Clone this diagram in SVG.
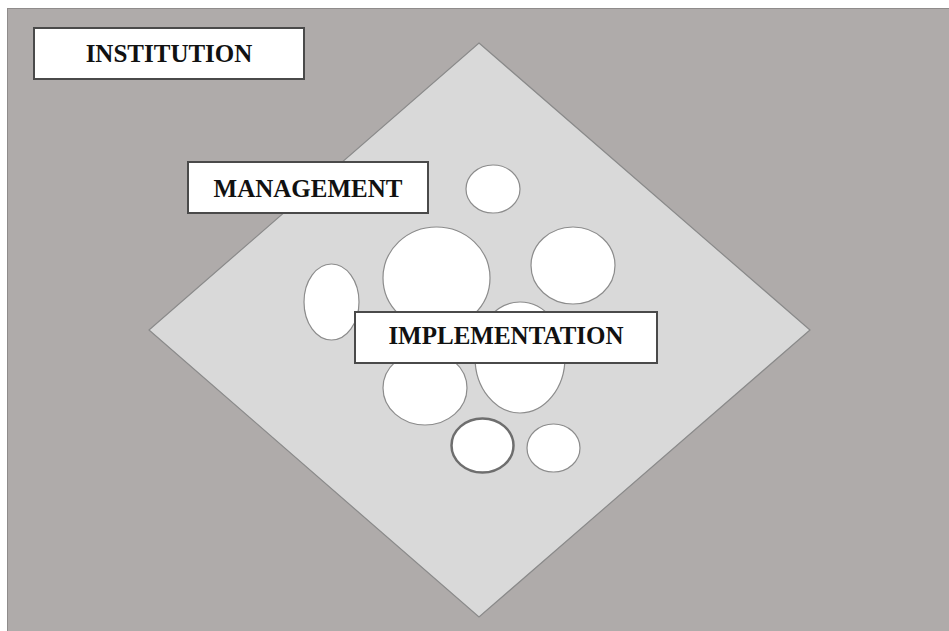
<svg xmlns="http://www.w3.org/2000/svg" width="949" height="631" viewBox="0 0 949 631">
<style>
.bg{fill:#afabaa;stroke:#8f8c8b;stroke-width:1}
.dia{fill:#d9d9d9;stroke:#8a8a8a;stroke-width:1.2}
.el{fill:#fff;stroke:#8c8c8c;stroke-width:1.2}
.eld{fill:#fff;stroke:#6e6e6e;stroke-width:2.5}
.box{fill:#fff;stroke:#4a4a4a;stroke-width:2}
.lbl{font-family:"Liberation Serif","Times New Roman",serif;font-weight:bold;font-size:25px;fill:#111;text-anchor:middle}
</style>
<rect width="949" height="631" fill="#fff"/>
<rect class="bg" x="7.5" y="8.5" width="945" height="625"/>
<polygon class="dia" points="479,43 810,330 479,617 149,330"/>
<g id="circles">
<ellipse class="el" cx="493" cy="189" rx="27" ry="24"/>
<ellipse class="el" cx="436.5" cy="278" rx="53.5" ry="51"/>
<ellipse class="el" cx="573" cy="265.5" rx="42" ry="38.5"/>
<ellipse class="el" cx="331.5" cy="302" rx="27.5" ry="38"/>
<ellipse class="el" cx="520" cy="357.5" rx="45" ry="55.5"/>
<ellipse class="el" cx="425" cy="388" rx="42" ry="37"/>
<ellipse class="eld" cx="482.5" cy="445.5" rx="31" ry="27"/>
<ellipse class="el" cx="553.5" cy="448" rx="26.5" ry="24"/>
</g>
<g id="institution">
<rect class="box" x="34" y="28" width="270" height="51"/>
<text class="lbl" x="169" y="62">INSTITUTION</text>
</g>
<g id="management">
<rect class="box" x="188" y="162" width="240" height="51"/>
<text class="lbl" x="308" y="197">MANAGEMENT</text>
</g>
<g id="implementation">
<rect class="box" x="355" y="312" width="302" height="51"/>
<text class="lbl" x="506" y="344">IMPLEMENTATION</text>
</g>
<g id="connectors"/>
</svg>
